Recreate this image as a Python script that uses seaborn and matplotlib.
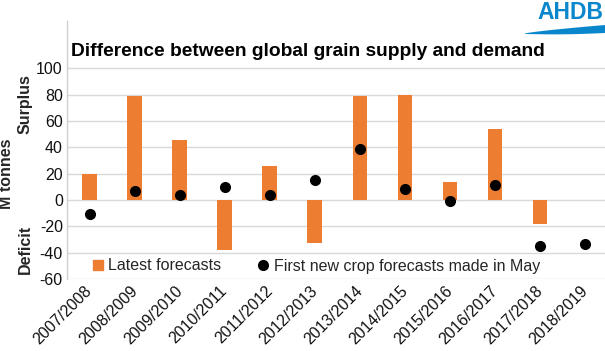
import matplotlib
matplotlib.use("Agg")
import matplotlib.pyplot as plt
from matplotlib.lines import Line2D
from matplotlib.patches import Polygon
from matplotlib.transforms import ScaledTranslation
import seaborn as sns
import pandas as pd
import numpy as np

seasons = ["2007/2008", "2008/2009", "2009/2010", "2010/2011", "2011/2012", "2012/2013",
           "2013/2014", "2014/2015", "2015/2016", "2016/2017", "2017/2018", "2018/2019"]
latest = [20, 79, 45.5, -38, 26, -32.5, 79, 80, 14, 54, -18.5, np.nan]
first_may = [-11, 6.5, 3.5, 9.5, 3.5, 15, 38.5, 8, -1, 11, -35, -33.5]
yticks = [-60, -40, -20, 0, 20, 40, 60, 80, 100]

df = pd.DataFrame({"season": seasons, "latest": latest, "first": first_may})

sns.set_theme(style="white")
plt.rcParams["font.family"] = ["Liberation Sans", "DejaVu Sans"]

W, H = 605, 351
fig = plt.figure(figsize=(W / 100, H / 100), dpi=100)
ax = fig.add_axes([67 / W, (H - 279) / H, 540.6 / W, (279 - 21) / H])

sns.barplot(data=df, x="season", y="latest", color="#ED7D31", saturation=1,
            width=0.325, linewidth=0, edgecolor="none", ax=ax, zorder=2)
sns.stripplot(data=df, x="season", y="first", color="black", jitter=False,
              size=8, linewidth=0, ax=ax, zorder=3)

ax.set_xlim(-0.5, 11.5)
ax.set_ylim(-60, 135.9)
ax.set_yticks(yticks)
ax.set_yticklabels([str(v) for v in yticks], fontsize=11.5, color="#111111")
ax.yaxis.grid(True, color="#d9d9d9", linewidth=1)
ax.set_axisbelow(True)
for side in ["top", "right", "bottom"]:
    ax.spines[side].set_visible(False)
ax.spines["left"].set_color("#d0d0d0")
ax.spines["left"].set_linewidth(1)
ax.tick_params(axis="both", length=0, pad=3)
ax.set_xlabel("")
ax.set_ylabel("")
shift = ScaledTranslation(-5 / 100, 0, fig.dpi_scale_trans)
for lbl in ax.get_xticklabels():
    lbl.set_rotation(45)
    lbl.set_ha("right")
    lbl.set_rotation_mode("anchor")
    lbl.set_fontsize(11.5)
    lbl.set_color("#111111")
    lbl.set_transform(lbl.get_transform() + shift)

fig.text(71 / W, 1 - 52 / H, "Difference between global grain supply and demand",
         fontsize=13.8, fontweight="bold", color="black", va="center", ha="left")

fig.text(25 / W, 1 - 104 / H, "Surplus", rotation=90, fontsize=11.5, fontweight="bold",
         ha="center", va="center")
fig.text(7 / W, 1 - 174 / H, "M tonnes", rotation=90, fontsize=11.5, fontweight="bold",
         ha="center", va="center")
fig.text(25 / W, 1 - 249 / H, "Deficit", rotation=90, fontsize=11.5, fontweight="bold",
         ha="center", va="center")

handles = [
    Line2D([], [], marker="s", linestyle="none", color="#ED7D31", markersize=7),
    Line2D([], [], marker="o", linestyle="none", color="black", markersize=7),
]
fig.legend(handles, ["Latest forecasts", "First new crop forecasts made in May"],
           loc="center left", bbox_to_anchor=(92 / W, 1 - 266 / H), ncol=2,
           frameon=False, fontsize=11.5, handlelength=0.7, handletextpad=0.3,
           columnspacing=2.3, borderpad=0, borderaxespad=0)

# logo
blue = "#0a87cc"
fig.text(603 / W, 1 - 12.5 / H, "AHDB", fontsize=16.5, fontweight="bold", color=blue,
         ha="right", va="center")
xs = np.linspace(525, 605, 40)
t = (xs - 525) / 80
upper = 33.5 - 8.5 * t ** 0.8
lower = 34 + 0.8 * np.sin(np.pi * t) - 1.0 * t
pts = [(x / W, 1 - y / H) for x, y in zip(xs, upper)] + \
      [(x / W, 1 - y / H) for x, y in zip(xs[::-1], lower[::-1])]
fig.add_artist(Polygon(pts, closed=True, transform=fig.transFigure,
                       facecolor=blue, edgecolor="none"))

fig.savefig("out.png", dpi=100)
